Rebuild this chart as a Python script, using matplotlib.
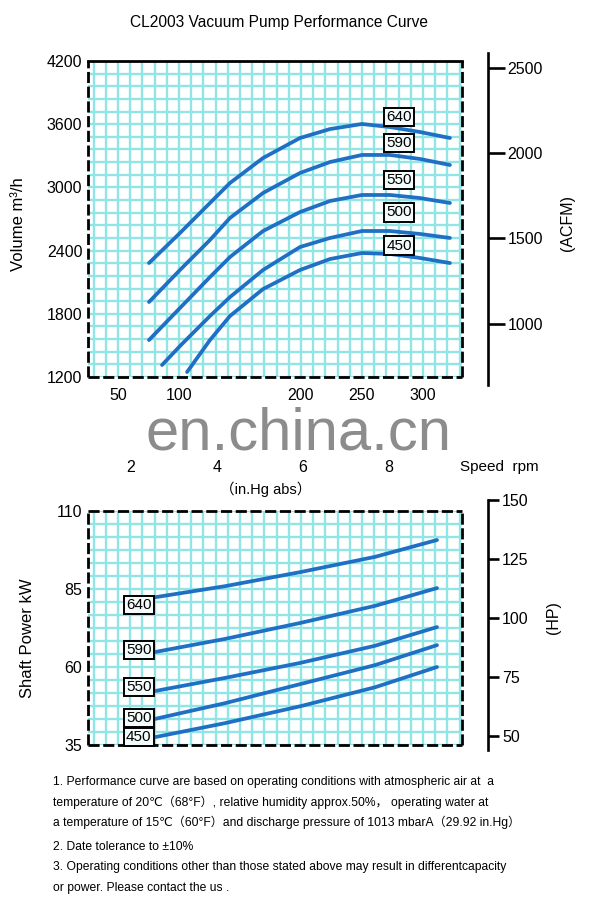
import numpy as np
import matplotlib
matplotlib.use("Agg")
import matplotlib.pyplot as plt

# ---------------- data ----------------
speeds = ["640", "590", "550", "500", "450"]

# Volume curves (x: suction pressure mbar abs, y: m3/h)
vol_x_640 = [75.4, 100.8, 125.4, 141.8, 168.9, 199.2, 223.8, 250.0, 273.0, 297.5, 322.1]
vol_y_640 = [2282, 2567, 2852, 3042, 3279, 3469, 3554, 3602, 3573, 3526, 3469]
vol_x_590 = [75.4, 100.8, 125.4, 141.8, 168.9, 199.2, 223.8, 250.0, 273.0, 297.5, 322.1]
vol_y_590 = [1912, 2216, 2501, 2710, 2947, 3137, 3241, 3308, 3308, 3270, 3213]
vol_x_550 = [75.4, 100.8, 125.4, 141.8, 168.9, 199.2, 223.8, 250.0, 273.0, 297.5, 322.1]
vol_y_550 = [1551, 1855, 2149, 2339, 2586, 2766, 2871, 2928, 2928, 2899, 2852]
vol_x_500 = [86.1, 100.8, 125.4, 141.8, 168.9, 199.2, 223.8, 250.0, 273.0, 297.5, 322.1]
vol_y_500 = [1314, 1494, 1779, 1959, 2216, 2434, 2520, 2586, 2586, 2558, 2520]
vol_x_450 = [106.6, 125.4, 141.8, 168.9, 199.2, 223.8, 250.0, 273.0, 297.5, 322.1]
vol_y_450 = [1247, 1551, 1779, 2035, 2216, 2320, 2377, 2368, 2330, 2282]

# Shaft power curves (kW)
pow_x = [76.2, 137.7, 199.2, 260.7, 311.5]
pow_y_640 = [82.1, 85.9, 90.4, 95.3, 100.7]
pow_y_590 = [64.5, 69.0, 74.1, 79.6, 85.3]
pow_y_550 = [52.0, 56.5, 61.3, 66.8, 72.8]
pow_y_500 = [43.0, 48.4, 54.5, 60.6, 67.0]
pow_y_450 = [37.2, 42.0, 47.4, 53.5, 60.0]

vol_yticks = [1200, 1800, 2400, 3000, 3600, 4200]
mbar_ticks = [50, 100, 200, 250, 300]
inhg_ticks = [2, 4, 6, 8]
acfm_ticks = [1000, 1500, 2000, 2500]
kw_ticks = [35, 60, 85, 110]
hp_ticks = [50, 75, 100, 125, 150]

notes = [
    "1. Performance curve are based on operating conditions with atmospheric air at  a",
    "temperature of 20\u2103\uff0868\u00b0F\uff09, relative humidity approx.50%\uff0c operating water at",
    "a temperature of 15\u2103\uff0860\u00b0F\uff09and discharge pressure of 1013 mbarA\uff0829.92 in.Hg\uff09",
    "2. Date tolerance to \u00b110%",
    "3. Operating conditions other than those stated above may result in differentcapacity",
    "or power. Please contact the us .",
]

# ---------------- style ----------------
FONT = ["Liberation Sans Narrow", "Liberation Sans", "DejaVu Sans", "Noto Sans CJK SC"]
plt.rcParams["font.family"] = FONT
BLUE = "#1f6fc4"
GRID = "#92e5e5"
W, H = 596, 901
TS = 11.5  # tick label size

def box(l, t, r, b):
    return [l / W, 1 - b / H, (r - l) / W, (b - t) / H]

fig = plt.figure(figsize=(W / 100, H / 100), dpi=100)
fig.patch.set_facecolor("white")

def frame(ax, top_solid):
    for s in ax.spines.values():
        s.set_visible(False)
    dash = (0, (4, 1.3))
    kw = dict(transform=ax.transAxes, color="black", lw=2.0, clip_on=False, zorder=5)
    ax.plot([0, 1], [1, 1], ls="-" if top_solid else dash, **kw)
    ax.plot([0, 0], [0, 1], ls=dash, **kw)
    ax.plot([1, 1], [0, 1], ls=dash, **kw)
    ax.plot([0, 1], [0, 0], ls=dash, **kw)

def tick_text(ax, size):
    ax.tick_params(axis="both", length=0, labelsize=size, pad=4)

# ---------------- top chart ----------------
ax1 = fig.add_axes(box(88, 61, 462, 377))
ax1.set_xlim(25.4, 332)
ax1.set_ylim(1200, 4200)
for v in np.arange(30, 332, 10):
    ax1.axvline(v, color=GRID, lw=1.7, zorder=0)
for v in np.arange(1200, 4201, 120):
    ax1.axhline(v, color=GRID, lw=1.7, zorder=0)
frame(ax1, True)
ax1.set_yticks(vol_yticks)
ax1.set_yticklabels([str(v) for v in vol_yticks])
ax1.set_xticks(mbar_ticks)
ax1.set_xticklabels([str(v) for v in mbar_ticks])
tick_text(ax1, TS)
ax1.tick_params(axis="x", pad=8)

vol_sets = [(vol_x_640, vol_y_640), (vol_x_590, vol_y_590), (vol_x_550, vol_y_550),
            (vol_x_500, vol_y_500), (vol_x_450, vol_y_450)]
top_label_y = [3667, 3419, 3067, 2762, 2448]
for (xs, ys), s, ly in zip(vol_sets, speeds, top_label_y):
    ax1.plot(xs, ys, color=BLUE, lw=2.7, solid_capstyle="round", solid_joinstyle="round", zorder=3)
    ax1.text(280.5, ly, s, ha="center", va="center", fontsize=11, zorder=6,
             bbox=dict(boxstyle="square,pad=0.14", fc="#f4fbfb", ec="black", lw=1.4))

# in.Hg row
for h in inhg_ticks:
    xp = 131 + (h - 2) * 43.0
    fig.text(xp / W, 1 - 467 / H, str(h), ha="center", va="center", fontsize=TS)
fig.text(499 / W, 1 - 467 / H, "Speed  rpm", ha="center", va="center", fontsize=11)
fig.text(266 / W, 1 - 489 / H, "\uff08in.Hg abs\uff09", ha="center", va="center", fontsize=10.5)

# ACFM axis
axr = fig.add_axes(box(487, 53, 488, 385))
axr.set_ylim(640, 2586)
for k in ["left", "top", "bottom"]:
    axr.spines[k].set_visible(False)
axr.spines["right"].set_linewidth(1.9)
axr.set_xticks([])
axr.yaxis.tick_right()
axr.set_yticks(acfm_ticks)
axr.set_yticklabels([str(v) for v in acfm_ticks])
axr.tick_params(axis="y", length=12, width=1.9, labelsize=TS, pad=2)
axr.patch.set_visible(False)
fig.text(568 / W, 1 - 223 / H, "(ACFM)", rotation=90, ha="center", va="center", fontsize=11.5)
fig.text(19 / W, 1 - 224 / H, "Volume m\u00b3/h", rotation=90, ha="center", va="center", fontsize=12)

# ---------------- bottom chart ----------------
ax2 = fig.add_axes(box(88, 511, 462, 745))
ax2.set_xlim(25.4, 332)
ax2.set_ylim(35, 110)
for v in np.arange(30, 332, 10):
    ax2.axvline(v, color=GRID, lw=1.7, zorder=0)
for v in np.linspace(35, 110, 19):
    ax2.axhline(v, color=GRID, lw=1.7, zorder=0)
frame(ax2, False)
ax2.set_yticks(kw_ticks)
ax2.set_yticklabels([str(v) for v in kw_ticks])
ax2.set_xticks([])
tick_text(ax2, TS)

pow_sets = [pow_y_640, pow_y_590, pow_y_550, pow_y_500, pow_y_450]
bot_label_y = [79.9, 65.4, 53.6, 43.6, 37.6]
for ys, s, ly in zip(pow_sets, speeds, bot_label_y):
    ax2.plot(pow_x, ys, color=BLUE, lw=2.7, solid_capstyle="round", solid_joinstyle="round", zorder=3)
    ax2.text(67.0, ly, s, ha="center", va="center", fontsize=11, zorder=6,
             bbox=dict(boxstyle="square,pad=0.14", fc="#f4fbfb", ec="black", lw=1.4))

axh = fig.add_axes(box(487, 500, 488, 750))
axh.set_ylim(44, 150)
for k in ["left", "top", "bottom"]:
    axh.spines[k].set_visible(False)
axh.spines["right"].set_linewidth(1.9)
axh.set_xticks([])
axh.yaxis.tick_right()
axh.set_yticks(hp_ticks)
axh.set_yticklabels([str(v) for v in hp_ticks])
axh.tick_params(axis="y", length=8, width=1.9, labelsize=TS, pad=2)
axh.patch.set_visible(False)
fig.text(553 / W, 1 - 618 / H, "(HP)", rotation=90, ha="center", va="center", fontsize=11.5)
fig.text(28 / W, 1 - 638 / H, "Shaft Power kW", rotation=90, ha="center", va="center", fontsize=12)

# ---------------- title, watermark, notes ----------------
fig.text(279 / W, 1 - 23 / H, "CL2003 Vacuum Pump Performance Curve", ha="center", va="center",
         fontsize=11.2)
fig.text(299 / W, 1 - 434 / H, "en.china.cn", ha="center", va="center", fontsize=43,
         color="#8c8c8c", family=["Liberation Sans", "DejaVu Sans"], zorder=10)

note_y = [782, 802, 822, 847, 867, 888]
for t, yy in zip(notes, note_y):
    fig.text(53 / W, 1 - yy / H, t, ha="left", va="center", fontsize=8.7)

fig.savefig("out.png", dpi=100, facecolor="white")
